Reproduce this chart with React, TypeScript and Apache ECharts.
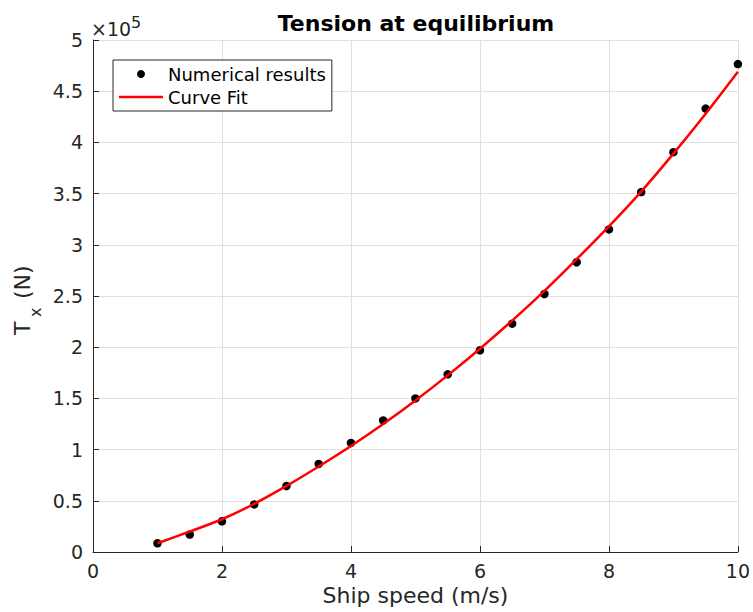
import React, { useEffect, useRef } from "react";
import * as echarts from "echarts";

const speeds = [1, 1.5, 2, 2.5, 3, 3.5, 4, 4.5, 5, 5.5, 6, 6.5, 7, 7.5, 8, 8.5, 9, 9.5, 10];
const numericalTension = [
  8500, 17000, 30000, 46500, 64500, 86000, 106500, 128500, 150000, 173500,
  197000, 223000, 252000, 283000, 315000, 351500, 390500, 433000, 476500,
];
const fitTension = [
  8500, 20000, 32000, 47000, 64500, 83500, 103500, 125000, 148000, 172500,
  198500, 226000, 255000, 286000, 318000, 352000, 389000, 428000, 469000,
];
const seriesNames = ["Numerical results", "Curve Fit"];
const titleText = "Tension at equilibrium";
const xLabel = "Ship speed (m/s)";

const FONT = "DejaVu Sans";
const INK = "#262626";

export default function App() {
  const ref = useRef<HTMLDivElement>(null);
  useEffect(() => {
    document.body.style.margin = "0";
    const chart = echarts.init(ref.current!, null, { renderer: "svg" });
    const rot = Math.PI / 2;
    chart.setOption({
      animation: false,
      backgroundColor: "#ffffff",
      textStyle: { fontFamily: FONT },
      title: {
        text: titleText,
        left: 411,
        top: 7,
        textAlign: "center",
        textStyle: { fontFamily: FONT, fontSize: 22, fontWeight: "bold", color: "#000" },
      },
      grid: { left: 93, right: 12, top: 40, bottom: 60, containLabel: false },
      legend: {
        data: [
          { name: seriesNames[0], icon: "circle" },
          { name: seriesNames[1], icon: "path://M0 0H44V2.5H0Z" },
        ],
        orient: "vertical",
        left: 113,
        top: 60,
        itemWidth: 44,
        itemHeight: 8,
        itemGap: 3,
        padding: [4, 6, 4, 6],
        borderColor: INK,
        borderWidth: 1,
        borderRadius: 0,
        backgroundColor: "#fff",
        textStyle: { fontFamily: FONT, fontSize: 18, color: "#000", lineHeight: 20 },
      },
      xAxis: {
        type: "value",
        min: 0,
        max: 10,
        interval: 2,
        name: xLabel,
        nameLocation: "middle",
        nameGap: 32,
        nameTextStyle: { fontFamily: FONT, fontSize: 22, color: INK },
        axisLine: { show: true, onZero: false, lineStyle: { color: INK, width: 1 } },
        axisTick: { show: true, inside: true, length: 6, lineStyle: { color: INK } },
        axisLabel: { fontFamily: FONT, fontSize: 19, color: INK, margin: 9, hideOverlap: false },
        splitLine: { show: true, lineStyle: { color: "#e0e0e0", width: 1 } },
      },
      yAxis: {
        type: "value",
        min: 0,
        max: 500000,
        interval: 50000,
        axisLine: { show: true, onZero: false, lineStyle: { color: INK, width: 1 } },
        axisTick: { show: true, inside: true, length: 6, lineStyle: { color: INK } },
        axisLabel: {
          fontFamily: FONT,
          fontSize: 19,
          color: INK,
          margin: 10,
          hideOverlap: false,
          formatter: (v: number) => String(Math.round((v / 100000) * 10) / 10),
        },
        splitLine: { show: true, lineStyle: { color: "#e0e0e0", width: 1 } },
      },
      graphic: [
        {
          type: "text",
          x: 91,
          y: 29,
          style: { text: "×10", fontFamily: FONT, fontSize: 19, fill: INK, align: "left", verticalAlign: "middle" },
        },
        {
          type: "text",
          x: 131,
          y: 22,
          style: { text: "5", fontFamily: FONT, fontSize: 16, fill: INK, align: "left", verticalAlign: "middle" },
        },
        {
          type: "text",
          x: 22,
          y: 335,
          rotation: rot,
          style: { text: "T", fontFamily: FONT, fontSize: 22, fill: INK, align: "left", verticalAlign: "middle" },
        },
        {
          type: "text",
          x: 35,
          y: 317,
          rotation: rot,
          style: { text: "x", fontFamily: FONT, fontSize: 16, fill: INK, align: "left", verticalAlign: "middle" },
        },
        {
          type: "text",
          x: 22,
          y: 299,
          rotation: rot,
          style: { text: "(N)", fontFamily: FONT, fontSize: 22, fill: INK, align: "left", verticalAlign: "middle" },
        },
      ],
      series: [
        {
          name: seriesNames[0],
          type: "scatter",
          symbol: "circle",
          symbolSize: 8.5,
          itemStyle: { color: "#000", opacity: 1 },
          data: speeds.map((s, i) => [s, numericalTension[i]]),
          z: 3,
        },
        {
          name: seriesNames[1],
          type: "line",
          symbol: "none",
          smooth: 0.3,
          lineStyle: { color: "#ff0000", width: 2.5 },
          itemStyle: { color: "#ff0000" },
          data: speeds.map((s, i) => [s, fitTension[i]]),
          z: 4,
        },
      ],
    });
    return () => chart.dispose();
  }, []);
  return <div ref={ref} style={{ width: 753, height: 612 }} />;
}
